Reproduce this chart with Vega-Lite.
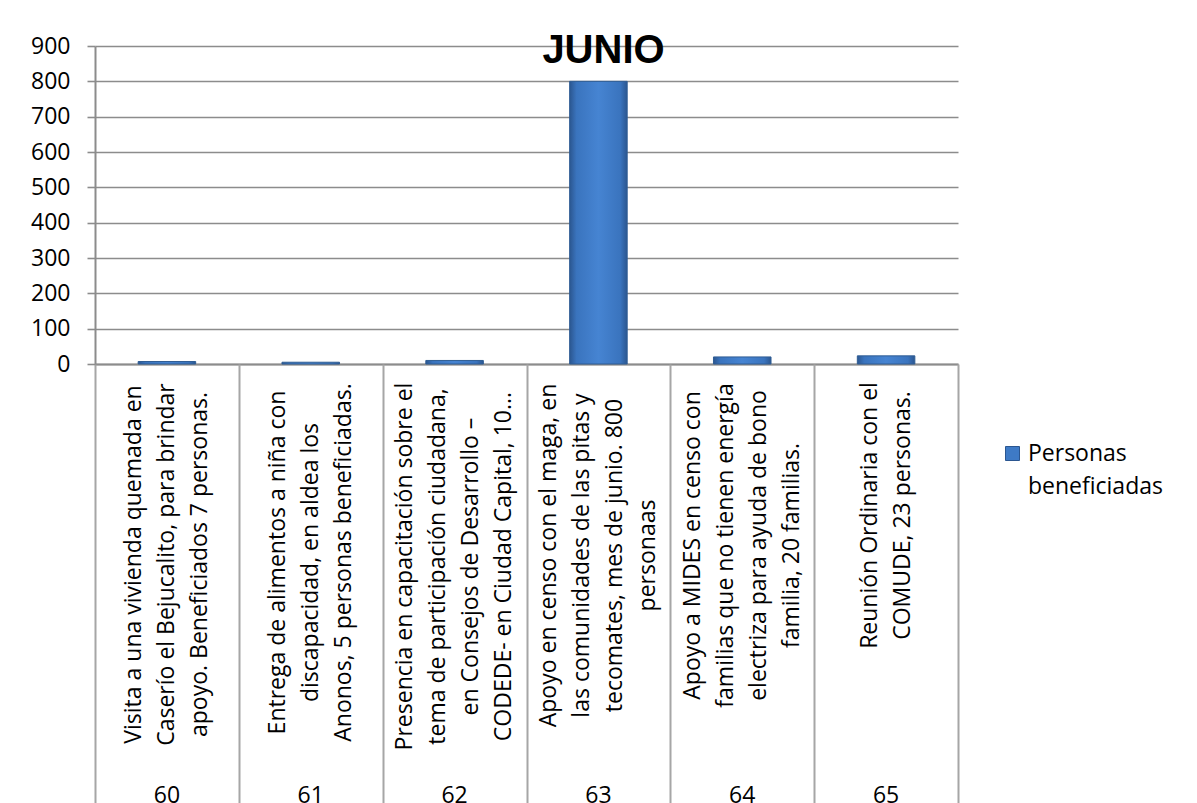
{
  "$schema": "https://vega.github.io/schema/vega-lite/v6.json",
  "autosize": "none",
  "width": 863,
  "height": 318,
  "padding": {"left": 95, "top": 46, "right": 239, "bottom": 439},
  "background": "white",
  "title": {
    "text": "JUNIO",
    "font": "Liberation Sans",
    "fontSize": 40,
    "fontWeight": "bold",
    "color": "black",
    "anchor": "middle",
    "frame": "group",
    "baseline": "alphabetic",
    "offset": -17,
    "dx": 77,
    "dy": 51
  },
  "data": {
    "values": [
      {"key": "60|Visita a una vivienda quemada en|Caserío el Bejucalito, para brindar|apoyo.  Beneficiados 7 personas.", "id": 60, "personas": 7},
      {"key": "61|Entrega de alimentos a niña con|discapacidad,  en aldea los|Anonos, 5 personas beneficiadas.", "id": 61, "personas": 5},
      {"key": "62|Presencia en capacitación sobre el|tema de participación ciudadana,|en Consejos de Desarrollo –|CODEDE- en Ciudad Capital, 10...", "id": 62, "personas": 10},
      {"key": "63|Apoyo en censo con el maga, en|las comunidades de las pitas y|tecomates, mes de junio. 800|personaas", "id": 63, "personas": 800},
      {"key": "64|Apoyo a MIDES en censo con|familias que no tienen energía|electriza para ayuda de bono|familia, 20 familias.", "id": 64, "personas": 20},
      {"key": "65|Reunión Ordinaria con el|COMUDE, 23 personas.", "id": 65, "personas": 23}
    ]
  },
  "layer": [
    {
      "mark": {
        "type": "bar",
        "width": {"band": 0.4},
        "stroke": "#2F5D94",
        "strokeWidth": 1,
        "color": {
          "gradient": "linear",
          "x1": 0, "x2": 1, "y1": 0, "y2": 0,
          "stops": [
            {"offset": 0, "color": "#2B5690"},
            {"offset": 0.12, "color": "#3A74BE"},
            {"offset": 0.5, "color": "#4684D2"},
            {"offset": 0.88, "color": "#3A74BE"},
            {"offset": 1, "color": "#2B5690"}
          ]
        }
      },
      "encoding": {
        "x": {
          "field": "key",
          "type": "nominal",
          "sort": {"field": "id", "order": "ascending"},
          "scale": {"paddingInner": 0, "paddingOuter": 0},
          "axis": {
            "orient": "bottom",
            "title": null,
            "domain": true,
            "domainColor": "#8c8c8c",
            "domainWidth": 2,
            "ticks": false,
            "labelAngle": -90,
            "labelAlign": "center",
            "labelBaseline": "middle",
            "labelFont": "Open Sans",
            "labelFontSize": 23,
            "labelColor": "black",
            "labelLineHeight": 33,
            "labelLimit": 0,
            "labelOverlap": false,
            "labelBound": false,
            "labelFlush": false,
            "labelExpr": "slice(split(datum.value, '|'), 1)",
            "labelOffset": {
              "condition": [
                {"test": "slice(datum.value, 0, 2) == '60'", "value": -33},
                {"test": "slice(datum.value, 0, 2) == '61'", "value": -33},
                {"test": "slice(datum.value, 0, 2) == '65'", "value": -16.5}
              ],
              "value": -49.5
            },
            "labelPadding": {
              "condition": [
                {"test": "slice(datum.value, 0, 2) == '60'", "value": 200},
                {"test": "slice(datum.value, 0, 2) == '61'", "value": 198},
                {"test": "slice(datum.value, 0, 2) == '62'", "value": 202},
                {"test": "slice(datum.value, 0, 2) == '63'", "value": 191},
                {"test": "slice(datum.value, 0, 2) == '64'", "value": 181}
              ],
              "value": 151
            }
          }
        },
        "y": {
          "field": "personas",
          "type": "quantitative",
          "scale": {"domain": [0, 900], "nice": false},
          "axis": {
            "title": null,
            "values": [0, 100, 200, 300, 400, 500, 600, 700, 800, 900],
            "grid": true,
            "gridColor": "#8c8c8c",
            "gridWidth": 1.6,
            "domain": true,
            "domainColor": "#8c8c8c",
            "domainWidth": 2,
            "ticks": true,
            "tickColor": "#8c8c8c",
            "tickWidth": 1.6,
            "tickSize": 8,
            "labelPadding": 17,
            "labelFont": "Open Sans",
            "labelFontSize": 23,
            "labelColor": "black"
          }
        }
      }
    },
    {
      "mark": {"type": "rule", "opacity": 0},
      "encoding": {
        "x": {
          "field": "key",
          "type": "nominal",
          "sort": {"field": "id", "order": "ascending"},
          "axis": {
            "orient": "bottom",
            "title": null,
            "domain": false,
            "labels": false,
            "grid": false,
            "ticks": true,
            "tickBand": "extent",
            "tickSize": 445,
            "tickColor": "#a6a6a6",
            "tickWidth": 2
          }
        }
      }
    },
    {
      "mark": {"type": "square", "opacity": 0},
      "encoding": {
        "x": {
          "field": "key",
          "type": "nominal",
          "sort": {"field": "id", "order": "ascending"},
          "axis": {
            "orient": "bottom",
            "title": null,
            "domain": false,
            "ticks": false,
            "grid": false,
            "labelAngle": 0,
            "labelAlign": "center",
            "labelBaseline": "top",
            "labelPadding": 420,
            "labelFont": "Open Sans",
            "labelFontSize": 23,
            "labelColor": "black",
            "labelLimit": 0,
            "labelExpr": "split(datum.value, '|')[0]"
          }
        },
        "color": {
          "datum": "Personas beneficiadas",
          "type": "nominal",
          "scale": {"range": ["#3E7AC6"]},
          "legend": {
            "title": null,
            "orient": "none",
            "legendX": 906,
            "legendY": 396,
            "symbolType": "square",
            "symbolSize": 196,
            "symbolOpacity": 1,
            "symbolStrokeColor": "#2B5690",
            "symbolStrokeWidth": 1,
            "labelFont": "Open Sans",
            "labelFontSize": 23,
            "labelColor": "black",
            "labelLimit": 0,
            "labelExpr": "['Personas', 'beneficiadas']"
          }
        }
      }
    }
  ],
  "resolve": {"axis": {"x": "independent"}},
  "config": {
    "view": {"stroke": null},
    "style": {"guide-label": {"lineHeight": 33}}
  }
}
